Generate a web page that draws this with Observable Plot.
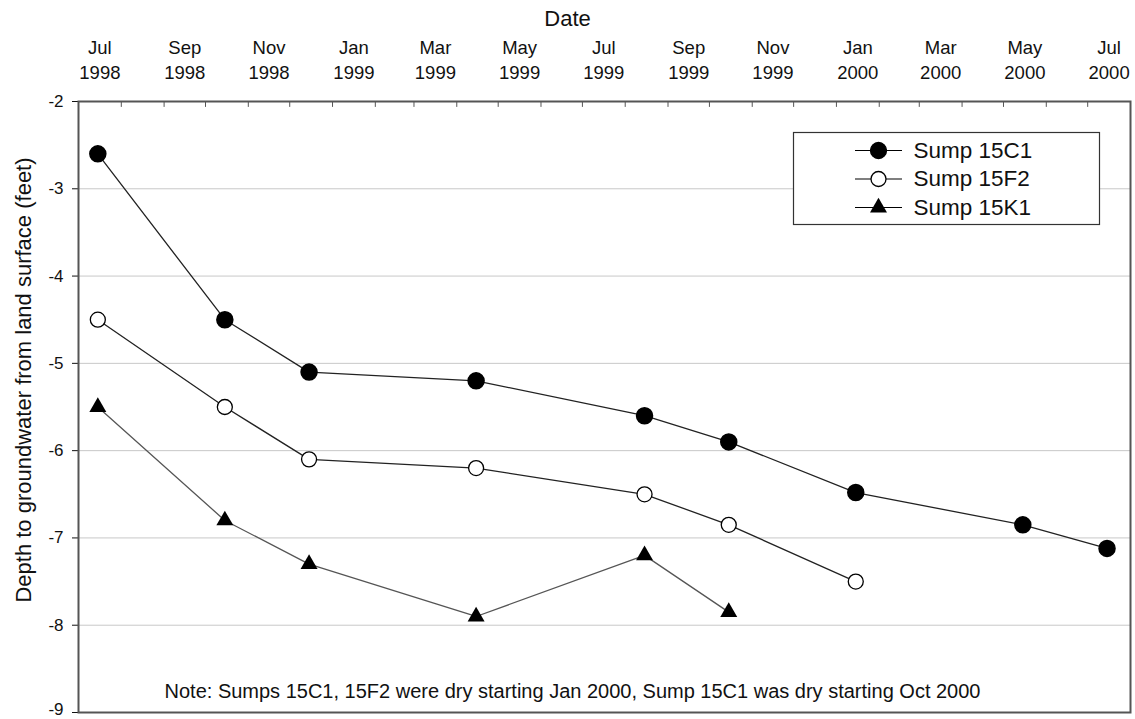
<!DOCTYPE html>
<html><head><meta charset="utf-8">
<script src="https://cdn.jsdelivr.net/npm/d3@7"></script>
<script src="https://cdn.jsdelivr.net/npm/@observablehq/plot@0.6"></script>
<style>body{margin:0;background:#fff}</style>
</head><body><div id="chart"></div>
<script>
// ---- data ----
const sampleDates = ["1998-07-15","1998-10-15","1998-12-15","1999-04-15","1999-08-15","1999-10-15","2000-01-15","2000-05-15","2000-07-15"];
const sump15C1 = [-2.6, -4.5, -5.1, -5.2, -5.6, -5.9, -6.48, -6.85, -7.12];
const sump15F2 = [-4.5, -5.5, -6.1, -6.2, -6.5, -6.85, -7.5];
const sump15K1 = [-5.5, -6.8, -7.3, -7.9, -7.2, -7.85];
const seriesNames = ["Sump 15C1", "Sump 15F2", "Sump 15K1"];
const tickMonths = ["Jul","Sep","Nov","Jan","Mar","May","Jul","Sep","Nov","Jan","Mar","May","Jul"];
const tickYears = ["1998","1998","1998","1999","1999","1999","1999","1999","1999","2000","2000","2000","2000"];
const yTicks = [-9, -8, -7, -6, -5, -4, -3, -2];
const xTitle = "Date";
const yTitle = "Depth to groundwater from land surface (feet)";
const note = "Note: Sumps 15C1, 15F2 were dry starting Jan 2000, Sump 15C1 was dry starting Oct 2000";

// ---- build tables ----
const parse = d3.utcParse("%Y-%m-%d");
const mk = (vals) => vals.map((v, i) => ({date: parse(sampleDates[i]), value: v}));
const rowsC1 = mk(sump15C1), rowsF2 = mk(sump15F2), rowsK1 = mk(sump15K1);

const x0 = new Date(Date.UTC(1998, 6, 1)), x1 = new Date(Date.UTC(2000, 7, 1));
const monthStarts = d3.utcMonth.range(d3.utcMonth.offset(x0, 1), x1);
const labelStarts = d3.utcMonth.every(2).range(x0, x1);
const labelDates = labelStarts.map(d => new Date((+d + +d3.utcMonth.offset(d, 1)) / 2));
const labelMap = new Map(labelDates.map((d, i) => [+d, tickMonths[i] + "\n" + tickYears[i]]));
const fmtY = d => String(d).replace("−", "-");

const lineSym = {draw(ctx) { ctx.moveTo(-23.5, 0); ctx.lineTo(23.5, 0); }};
const tickShape = {draw(ctx, l) { ctx.moveTo(0, 0); ctx.lineTo(0, -l); }};
const styles = [
  {fill: "#000", stroke: "#000", symbol: "circle", r: 8, line: "#222"},
  {fill: "#fff", stroke: "#000", symbol: "circle", r: 7.5, line: "#222"},
  {fill: "#000", stroke: "none", symbol: "triangle", r: 6.3, line: "#555"}
];

const legendMarks = seriesNames.flatMap((name, i) => [
  Plot.dot([name], {frameAnchor: "top-left", dx: 800, dy: 49 + i * 28.5, symbol: lineSym, stroke: "#000", strokeWidth: 1.2, fill: "none"}),
  Plot.dot([name], {frameAnchor: "top-left", dx: 800, dy: 49 + i * 28.5, symbol: styles[i].symbol, r: styles[i].r, fill: styles[i].fill, stroke: styles[i].stroke, strokeWidth: 1.3}),
  Plot.text([name], {frameAnchor: "top-left", dx: 835, dy: 49 + i * 28.5, textAnchor: "start", lineAnchor: "middle", fontSize: 22.5, fill: "#111"})
]);

const chart = Plot.plot({
  width: 1135, height: 719,
  marginTop: 101, marginLeft: 78, marginRight: 5, marginBottom: 7,
  style: {fontFamily: "'Liberation Sans', Arial, sans-serif", color: "#111", background: "#fff"},
  x: {type: "utc", domain: [x0, x1]},
  y: {domain: [-9, -2]},
  marks: [
    Plot.gridY(yTicks.slice(1, -1), {stroke: "#c8c8c8", strokeOpacity: 1, strokeWidth: 1}),
    Plot.frame({fill: "#fff", stroke: "#333", strokeWidth: 1.2, insetLeft: 715, insetRight: 31, insetTop: 31, insetBottom: 488}),
    ...legendMarks,
    Plot.line(rowsC1, {x: "date", y: "value", stroke: styles[0].line, strokeWidth: 1.3}),
    Plot.line(rowsF2, {x: "date", y: "value", stroke: styles[1].line, strokeWidth: 1.3}),
    Plot.line(rowsK1, {x: "date", y: "value", stroke: styles[2].line, strokeWidth: 1.3}),
    Plot.dot(rowsC1, {x: "date", y: "value", r: styles[0].r, fill: styles[0].fill, stroke: styles[0].stroke}),
    Plot.dot(rowsF2, {x: "date", y: "value", r: styles[1].r, fill: styles[1].fill, stroke: styles[1].stroke, strokeWidth: 1.3}),
    Plot.dot(rowsK1, {x: "date", y: "value", symbol: "triangle", r: styles[2].r, fill: styles[2].fill}),
    Plot.axisY({ticks: yTicks, tickSize: 6, tickPadding: 9, fontSize: 17, label: null, tickFormat: d => d === yTicks[0] ? "" : fmtY(d)}),
    Plot.text([yTicks[0]], {y: d => d, frameAnchor: "left", textAnchor: "end", lineAnchor: "middle", dx: -15, dy: -3, fontSize: 17, fill: "#111", text: fmtY}),
    Plot.vector(monthStarts, {x: d => d, frameAnchor: "top", length: 5, rotate: 180, anchor: "start", shape: tickShape, stroke: "#555", strokeWidth: 1}),
    Plot.axisX({anchor: "top", ticks: labelDates, tickSize: 0, tickPadding: 23, fontSize: 18.5, lineHeight: 1.3, tickFormat: d => labelMap.get(+d), label: null}),
    Plot.frame({stroke: "#555", strokeWidth: 2}),
    Plot.text([xTitle], {frameAnchor: "top", dx: -37, dy: -91, fontSize: 22, fill: "#111"}),
    Plot.text([yTitle], {frameAnchor: "left", textAnchor: "middle", lineAnchor: "middle", rotate: -90, dx: -55, dy: -27, fontSize: 22, fill: "#111"}),
    Plot.text([note], {frameAnchor: "bottom", lineAnchor: "middle", dx: -32, dy: -21, fontSize: 20, fill: "#111"})
  ]
});
document.getElementById("chart").appendChild(chart);
</script>
</body></html>
